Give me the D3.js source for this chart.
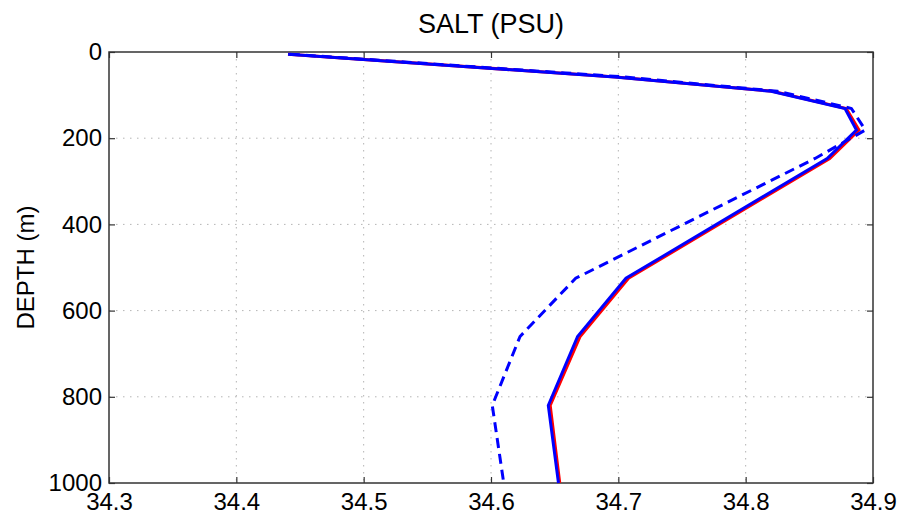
<!DOCTYPE html>
<html>
    <head>
        <meta charset="UTF-8">
        <script src="https://cdn.jsdelivr.net/npm/d3@7"></script>
        <title>SALT (PSU)</title>
        <style>
            body { margin: 0; background: white; }
            text { font-family: "Liberation Sans", Arial, sans-serif; fill: black; }
        </style>
    </head>
    <body>
        <div id="ChartContainer"></div>
    </body>
    <script>
        // profile depths (m) and salinity for the three runs
        const depths = [5, 58, 91, 131, 181, 247, 525, 660, 820, 1000]
        const salt_red = [34.4406, 34.698, 34.821, 34.879, 34.889, 34.866, 34.708, 34.670, 34.6465, 34.654]
        const salt_blue = [34.4406, 34.697, 34.820, 34.878, 34.887, 34.864, 34.706, 34.668, 34.645, 34.653]
        const salt_dashed = [34.442, 34.705, 34.825, 34.883, 34.894, 34.8545, 34.6665, 34.6228, 34.601, 34.610]

        const salt_ticks = [34.3, 34.4, 34.5, 34.6, 34.7, 34.8, 34.9]
        const depth_ticks = [0, 200, 400, 600, 800, 1000]

        const width = 902
        const height = 518
        const margin = { top: 52, right: 29, bottom: 35, left: 109 }

        const svg = d3.select("#ChartContainer")
            .append("svg")
            .attr("width", width)
            .attr("height", height)

        const x = d3.scaleLinear()
            .domain([34.3, 34.9])
            .range([margin.left, width - margin.right])

        const y = d3.scaleLinear()
            .domain([0, 1000])
            .range([margin.top, height - margin.bottom])

        const grid = svg.append("g")
            .attr("stroke", "#b4b4b4")
            .attr("stroke-width", 1)
            .attr("stroke-dasharray", "1.5,5.5")

        grid.selectAll("line.vx")
            .data(salt_ticks.slice(1, -1))
            .enter()
            .append("line")
            .attr("x1", d => x(d)).attr("x2", d => x(d))
            .attr("y1", y(0)).attr("y2", y(1000))

        grid.selectAll("line.hy")
            .data(depth_ticks.slice(1, -1))
            .enter()
            .append("line")
            .attr("x1", x(34.3)).attr("x2", x(34.9))
            .attr("y1", d => y(d)).attr("y2", d => y(d))

        const fmt = d3.format(".1f")

        const styleAxis = g => {
            g.select(".domain").remove()
            g.selectAll("line").attr("stroke", "#333").attr("stroke-width", 1.2)
            g.selectAll("text").style("font-size", "24px").attr("fill", "black")
        }

        svg.append("g")
            .attr("transform", "translate(0," + y(1000) + ")")
            .call(d3.axisBottom(x).tickValues(salt_ticks).tickFormat(fmt).tickSize(-6).tickPadding(10))
            .call(styleAxis)

        svg.append("g")
            .attr("transform", "translate(0," + y(0) + ")")
            .call(d3.axisTop(x).tickValues(salt_ticks).tickFormat("").tickSize(-6))
            .call(styleAxis)

        svg.append("g")
            .attr("transform", "translate(" + x(34.3) + ",0)")
            .call(d3.axisLeft(y).tickValues(depth_ticks).tickFormat(d3.format("d")).tickSize(-6).tickPadding(7))
            .call(styleAxis)

        svg.append("g")
            .attr("transform", "translate(" + x(34.9) + ",0)")
            .call(d3.axisRight(y).tickValues(depth_ticks).tickFormat("").tickSize(-6))
            .call(styleAxis)

        svg.append("rect")
            .attr("x", x(34.3))
            .attr("y", y(0))
            .attr("width", x(34.9) - x(34.3))
            .attr("height", y(1000) - y(0))
            .attr("fill", "none")
            .attr("stroke", "#333")
            .attr("stroke-width", 1.5)

        const line = d3.line()
            .x(d => x(d[0]))
            .y(d => y(d[1]))

        const series = [
            { values: salt_red, color: "#ff0000", dash: null },
            { values: salt_blue, color: "#0000ff", dash: null },
            { values: salt_dashed, color: "#0000ff", dash: "10,6" }
        ]

        svg.selectAll("path.profile")
            .data(series)
            .enter()
            .append("path")
            .attr("class", "profile")
            .attr("d", s => line(s.values.map((v, i) => [v, depths[i]])))
            .attr("fill", "none")
            .attr("stroke", s => s.color)
            .attr("stroke-width", 3)
            .attr("stroke-linejoin", "miter")
            .attr("stroke-dasharray", s => s.dash)

        svg.append("text")
            .attr("x", (x(34.3) + x(34.9)) / 2)
            .attr("y", 33)
            .attr("text-anchor", "middle")
            .style("font-size", "27px")
            .text("SALT (PSU)")

        svg.append("text")
            .attr("transform", "translate(34," + (y(0) + y(1000)) / 2 + ") rotate(-90)")
            .attr("text-anchor", "middle")
            .style("font-size", "24px")
            .text("DEPTH (m)")
    </script>
</html>
